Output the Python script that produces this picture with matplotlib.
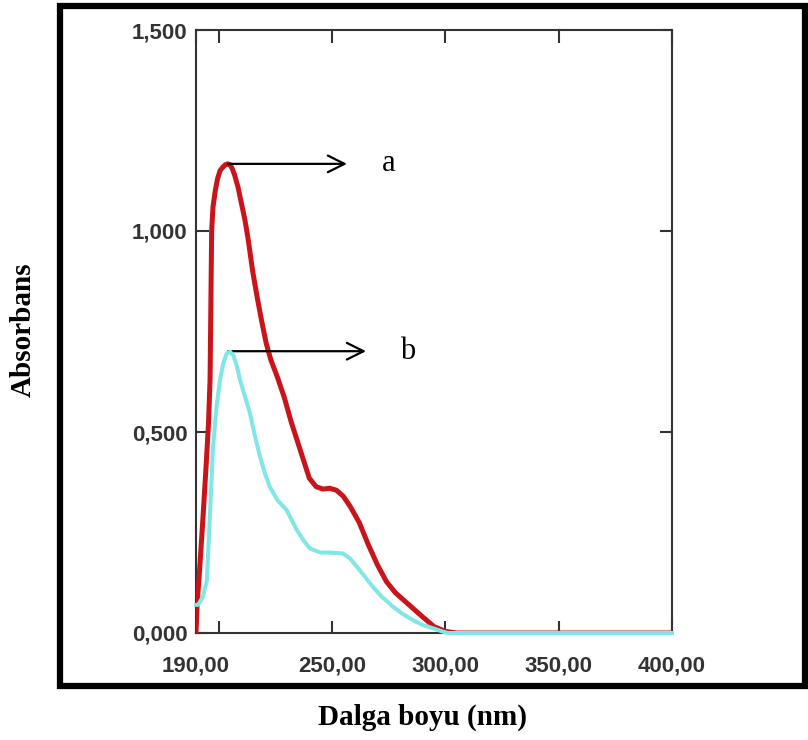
import matplotlib

matplotlib.use("Agg")
import matplotlib.pyplot as plt
from matplotlib.patches import Rectangle

# dalga boyu (nm) ve absorbans degerleri
wl_a = [190, 190.5, 191.5, 193, 194.5, 195.5, 196.2, 196.9, 197.5, 198.5, 199.5, 200.6, 202,
        203, 204, 205, 206, 207, 208.5, 210, 211.5, 213, 215, 217, 219, 221, 223, 226, 229,
        232, 236, 240, 243, 246, 249, 252, 255, 258, 262, 266, 270, 274, 278, 282, 286,
        290, 295, 300, 305, 400]
abs_a = [0.0, 0.07, 0.15, 0.28, 0.42, 0.52, 0.63, 1.0, 1.06, 1.10, 1.13, 1.15, 1.16,
         1.165, 1.167, 1.165, 1.155, 1.14, 1.11, 1.07, 1.03, 0.98, 0.90, 0.835, 0.775,
         0.72, 0.68, 0.635, 0.585, 0.525, 0.455, 0.385, 0.364, 0.358, 0.36, 0.355, 0.34,
         0.315, 0.275, 0.22, 0.17, 0.128, 0.10, 0.08, 0.06, 0.04, 0.016, 0.004, 0.0, 0.0]

wl_b = [190, 191, 193, 194.8, 196.2, 197.5, 199, 200.6, 202, 203.5, 205, 206.5, 208, 209.4,
        211.5, 213.8, 216, 218.2, 220.5, 222.6, 226, 230, 234.5, 237.5, 240.3, 245, 249,
        254.8, 258, 261, 264.5, 268, 272, 277, 281, 285.7, 290, 294.5, 298, 301, 400]
abs_b = [0.07, 0.07, 0.09, 0.13, 0.30, 0.46, 0.56, 0.63, 0.67, 0.695, 0.70, 0.69, 0.665, 0.63,
         0.59, 0.547, 0.49, 0.44, 0.395, 0.363, 0.33, 0.306, 0.256, 0.23, 0.21, 0.20, 0.20,
         0.198, 0.185, 0.165, 0.14, 0.115, 0.09, 0.065, 0.048, 0.032, 0.02, 0.012, 0.005, 0.0, 0.0]

x_ticks = [190, 200, 250, 300, 350, 400]
x_ticklabels = ["190,00", "", "250,00", "300,00", "350,00", "400,00"]
y_ticks = [0.0, 0.5, 1.0, 1.5]
y_ticklabels = ["0,000", "0,500", "1,000", "1,500"]

# ok isaretleri: (baslangic x, y, ok ucu x, etiket x, etiket)
peak_a = (204.1, 1.167, 256.6, 275.1, "a")
peak_b = (204.1, 0.701, 265.0, 283.5, "b")

fig = plt.figure(figsize=(8.08, 7.40), dpi=100)
ax = fig.add_axes([196 / 808, 107 / 740, 476 / 808, 603 / 740])

ax.plot(wl_a, abs_a, color="#c8141a", lw=3.6, zorder=3)
ax.plot(wl_b, abs_b, color="#80e6e6", lw=2.9, zorder=4, clip_on=False)

ax.set_xlim(190, 400)
ax.set_ylim(0, 1.5)

gray = "#333333"
for s in ax.spines.values():
    s.set_color(gray)
    s.set_linewidth(1.5)

ax.set_xticks(x_ticks)
ax.set_xticklabels(x_ticklabels)
ax.tick_params(axis="x", which="major", direction="in", length=9, width=1.5,
               color=gray, top=True, bottom=True, pad=16, labelsize=16,
               labelcolor=gray)
ax.set_yticks(y_ticks)
ax.set_yticklabels(y_ticklabels)
ax.tick_params(axis="y", which="major", direction="in", length=9, width=1.5,
               color=gray, left=True, right=True, pad=6, labelsize=16,
               labelcolor=gray)
for lab in ax.get_xticklabels() + ax.get_yticklabels():
    lab.set_fontweight("bold")
    lab.set_family("Liberation Sans")

for x0, y0, x1, xt, txt in [peak_a, peak_b]:
    ax.annotate("", xy=(x1, y0), xytext=(x0, y0),
                arrowprops=dict(arrowstyle="->", lw=1.6, color="black",
                                mutation_scale=30, shrinkA=0, shrinkB=0))
    ax.text(xt, y0, txt, fontsize=22, family="Liberation Serif",
            ha="center", va="center")

fig.text(422 / 808, 1 - 717 / 740, "Dalga boyu (nm)", fontsize=21,
         fontweight="bold", family="Liberation Serif", ha="center", va="center")
fig.text(23 / 808, 1 - 330 / 740, "Absorbans", fontsize=21, rotation=90,
         fontweight="bold", family="Liberation Serif", ha="center", va="center")

# kalin dis cerceve
fig.patches.append(Rectangle((60 / 808, 1 - 686 / 740), 745 / 808, 680.5 / 740,
                             transform=fig.transFigure, fill=False,
                             lw=4.5, edgecolor="black"))

fig.savefig("out.png", dpi=100)
plt.close(fig)
